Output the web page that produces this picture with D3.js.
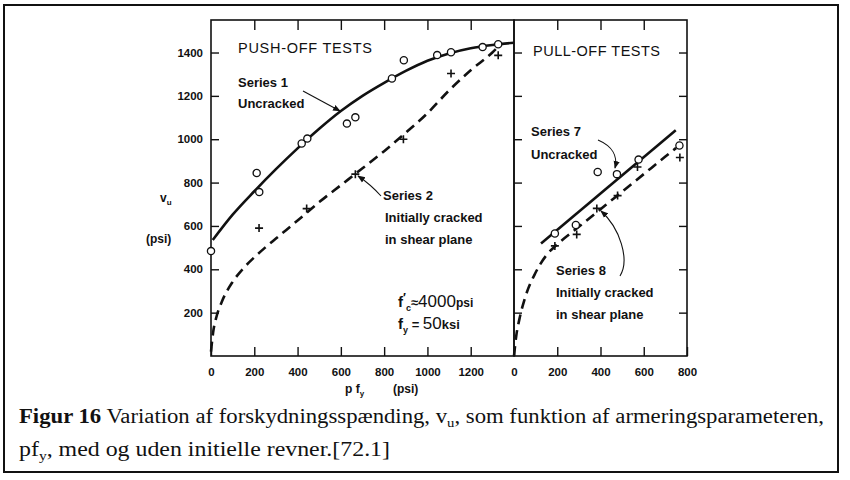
<!DOCTYPE html>
<html>
<head>
<meta charset="utf-8">
<script src="https://cdn.jsdelivr.net/npm/d3@7"></script>
<style>
  body { margin: 0; background: #fff; }
  text { font-family: "Liberation Sans", Arial, sans-serif; fill: #111; }
</style>
</head>
<body>
<svg width="850" height="480"></svg>
<script>
// push-off tests (left panel)
var s1X = [0, 211, 223, 419, 445, 628, 667, 836, 891, 1045, 1109, 1255, 1327];
var s1Y = [484, 844, 756, 980, 1003, 1072, 1101, 1280, 1364, 1388, 1401, 1425, 1438];
var s2X = [222, 442, 667, 889, 1109, 1327];
var s2Y = [590, 680, 839, 1000, 1303, 1387];
// fitted curves, push-off
var fit1X = [8, 100, 200, 300, 400, 500, 600, 700, 800, 900, 1000, 1100, 1200, 1300, 1400];
var fit1Y = [535, 652, 760, 862, 958, 1048, 1130, 1200, 1260, 1315, 1362, 1396, 1420, 1435, 1445];
var fit2X = [0, 10, 25, 50, 100, 150, 200, 250, 300, 400, 500, 600, 700, 800, 900, 1000, 1100, 1200, 1300, 1340];
var fit2Y = [20, 110, 180, 250, 342, 405, 455, 500, 542, 625, 710, 788, 866, 945, 1030, 1120, 1225, 1318, 1400, 1440];

// pull-off tests (right panel)
var s7X = [189, 286, 387, 476, 576, 765];
var s7Y = [565, 604, 849, 839, 906, 971];
var s8X = [189, 290, 383, 479, 571, 767];
var s8Y = [508, 561, 681, 740, 872, 916];
var fit7X = [125, 748];
var fit7Y = [519, 1041];
var fit8X = [0, 10, 25, 50, 100, 150, 200, 300, 400, 500, 600, 700, 750];
var fit8Y = [0, 90, 170, 265, 385, 465, 515, 596, 677, 758, 839, 920, 960];

var yTicks = [200, 400, 600, 800, 1000, 1200, 1400];
var xTicksL = [0, 200, 400, 600, 800, 1000, 1200];
var xTicksR = [0, 200, 400, 600, 800];

var svg = d3.select("svg");
svg.append("rect").attr("width", 850).attr("height", 480).attr("fill", "#fff");

// outer border
svg.append("rect")
    .attr("x", 4).attr("y", 5).attr("width", 834).attr("height", 467)
    .attr("fill", "none").attr("stroke", "#111").attr("stroke-width", 2);

var xL = d3.scaleLinear().domain([0, 1400]).range([211, 514]);
var xR = d3.scaleLinear().domain([0, 800]).range([514, 687]);
var y = d3.scaleLinear().domain([0, 1550]).range([356, 20]);

function styleAxis(g) {
    g.select(".domain").remove();
    g.selectAll("line").attr("stroke", "#111").attr("stroke-width", 1.4);
    g.selectAll("text")
        .style("font-family", "Liberation Sans, Arial, sans-serif")
        .style("font-weight", "bold")
        .style("font-size", "11.5px")
        .attr("fill", "#111");
}

// left panel axes
svg.append("g").attr("transform", "translate(" + xL(0) + ",0)")
    .call(d3.axisLeft(y).tickValues(yTicks).tickSize(-8).tickPadding(8).tickFormat(d3.format("d")))
    .call(styleAxis);
svg.append("g").attr("transform", "translate(0," + y(0) + ")")
    .call(d3.axisBottom(xL).tickValues(xTicksL).tickSize(-9).tickPadding(12).tickFormat(d3.format("d")))
    .call(styleAxis);
svg.append("g").attr("transform", "translate(0," + y(1550) + ")")
    .call(d3.axisTop(xL).tickValues(xTicksL.slice(1)).tickSize(-10).tickFormat(""))
    .call(styleAxis);

// right panel axes
svg.append("g").attr("transform", "translate(" + xR(0) + ",0)")
    .call(d3.axisLeft(y).tickValues(yTicks).tickSize(-8).tickFormat(""))
    .call(styleAxis);
svg.append("g").attr("transform", "translate(" + xR(800) + ",0)")
    .call(d3.axisRight(y).tickValues(yTicks).tickSize(-8).tickFormat(""))
    .call(styleAxis);
svg.append("g").attr("transform", "translate(0," + y(0) + ")")
    .call(d3.axisBottom(xR).tickValues(xTicksR).tickSize(-9).tickPadding(12).tickFormat(d3.format("d")))
    .call(styleAxis);
svg.append("g").attr("transform", "translate(0," + y(1550) + ")")
    .call(d3.axisTop(xR).tickValues([200, 400, 600]).tickSize(-10).tickFormat(""))
    .call(styleAxis);

// frames
svg.append("rect")
    .attr("x", xL(0)).attr("y", y(1550))
    .attr("width", xL(1400) - xL(0)).attr("height", y(0) - y(1550))
    .attr("fill", "none").attr("stroke", "#111").attr("stroke-width", 1.6);
svg.append("rect")
    .attr("x", xR(0)).attr("y", y(1550))
    .attr("width", xR(800) - xR(0)).attr("height", y(0) - y(1550))
    .attr("fill", "none").attr("stroke", "#111").attr("stroke-width", 1.6);

// fitted curves
function drawCurve(xs, ys, sx, dashed) {
    var pts = xs.map(function (d, i) { return [d, ys[i]]; });
    var line = d3.line()
        .x(function (d) { return sx(d[0]); })
        .y(function (d) { return y(d[1]); })
        .curve(d3.curveMonotoneX);
    svg.append("path")
        .attr("d", line(pts))
        .attr("fill", "none")
        .attr("stroke", "#111")
        .attr("stroke-width", 2.6)
        .attr("stroke-dasharray", dashed ? "10,6" : null);
}
drawCurve(fit1X, fit1Y, xL, false);
drawCurve(fit2X, fit2Y, xL, true);
drawCurve(fit7X, fit7Y, xR, false);
drawCurve(fit8X, fit8Y, xR, true);

// markers
function drawCircles(xs, ys, sx) {
    svg.append("g").selectAll("circle")
        .data(xs)
        .enter()
        .append("circle")
        .attr("cx", function (d) { return sx(d); })
        .attr("cy", function (d, i) { return y(ys[i]); })
        .attr("r", 3.6)
        .attr("fill", "#fff")
        .attr("stroke", "#111")
        .attr("stroke-width", 1.3);
}
function drawPlus(xs, ys, sx) {
    svg.append("g").selectAll("path")
        .data(xs)
        .enter()
        .append("path")
        .attr("d", function (d, i) {
            var cx = sx(d), cy = y(ys[i]);
            return "M" + (cx - 4) + "," + cy + "H" + (cx + 4) + "M" + cx + "," + (cy - 4) + "V" + (cy + 4);
        })
        .attr("stroke", "#111")
        .attr("stroke-width", 1.6);
}
drawCircles(s1X, s1Y, xL);
drawPlus(s2X, s2Y, xL);
drawCircles(s7X, s7Y, xR);
drawPlus(s8X, s8Y, xR);

// arrowhead
svg.append("defs").append("marker")
    .attr("id", "arr")
    .attr("viewBox", "0 0 10 10")
    .attr("refX", 9).attr("refY", 5)
    .attr("markerWidth", 7).attr("markerHeight", 7)
    .attr("orient", "auto")
    .append("path").attr("d", "M0,1L10,5L0,9Z").attr("fill", "#111");

function leader(d) {
    svg.append("path")
        .attr("d", d)
        .attr("fill", "none")
        .attr("stroke", "#111")
        .attr("stroke-width", 1.1)
        .attr("marker-end", "url(#arr)");
}
leader("M303,91 L340,111");
leader("M381,196 C372,186 364,180 358,176");
leader("M598,140 C612,146 618,156 615,168");
leader("M620,276 C630,260 620,228 601,211");

// annotation text
function label(x, yy, str, size, weight) {
    return svg.append("text")
        .attr("x", x).attr("y", yy)
        .style("font-size", size + "px")
        .style("font-weight", weight || "normal")
        .text(str);
}
label(238, 53, "PUSH-OFF TESTS", 14.5).attr("textLength", 134);
label(533, 56, "PULL-OFF TESTS", 14.5).attr("textLength", 127);

label(238, 87, "Series 1", 13, "bold");
label(238, 108, "Uncracked", 13, "bold");
label(383, 200, "Series 2", 13, "bold");
label(385, 222, "Initially cracked", 13, "bold");
label(385, 244, "in shear plane", 13, "bold");

label(531, 136, "Series 7", 13, "bold");
label(531, 159, "Uncracked", 13, "bold");
label(556, 275, "Series 8", 13, "bold");
label(556, 297, "Initially cracked", 13, "bold");
label(556, 319, "in shear plane", 13, "bold");

// material properties
var fc = svg.append("text").attr("x", 398).attr("y", 307)
    .style("font-size", "15px").style("font-weight", "bold");
fc.append("tspan").text("f");
fc.append("tspan").attr("dy", -5).style("font-size", "12px").text("\u2032");
fc.append("tspan").attr("dy", 9).style("font-size", "9px").text("c");
fc.append("tspan").attr("dy", -4).style("font-size", "13px").text("\u2248");
fc.append("tspan").style("font-size", "17px").style("font-weight", "normal").text("4000");
fc.append("tspan").style("font-size", "12px").text("psi");

var fy = svg.append("text").attr("x", 398).attr("y", 329)
    .style("font-size", "15px").style("font-weight", "bold");
fy.append("tspan").text("f");
fy.append("tspan").attr("dy", 4).style("font-size", "9px").text("y");
fy.append("tspan").attr("dy", -4).style("font-size", "13px").text(" = ");
fy.append("tspan").style("font-size", "17px").style("font-weight", "normal").text("50");
fy.append("tspan").style("font-size", "13px").text("ksi");

// axis titles
var vu = svg.append("text").attr("x", 160).attr("y", 202)
    .style("font-size", "12px").style("font-weight", "bold");
vu.append("tspan").text("v");
vu.append("tspan").attr("dy", 3).style("font-size", "8px").text("u");
label(146, 243, "(psi)", 12, "bold");

var pf = svg.append("text").attr("x", 345).attr("y", 393)
    .style("font-size", "12px").style("font-weight", "bold");
pf.append("tspan").text("p f");
pf.append("tspan").attr("dy", 3).style("font-size", "8px").text("y");
label(393, 393, "(psi)", 12, "bold");

// caption
var cap1 = svg.append("text").attr("x", 19).attr("y", 423)
    .attr("textLength", 805).attr("lengthAdjust", "spacingAndGlyphs")
    .style("font-family", "Liberation Serif, Times New Roman, serif")
    .style("font-size", "20px");
cap1.append("tspan").style("font-weight", "bold").text("Figur 16");
cap1.append("tspan").text(" Variation af forskydningsspænding, v");
cap1.append("tspan").attr("dy", 4).style("font-size", "13px").text("u");
cap1.append("tspan").attr("dy", -4).text(", som funktion af armeringsparameteren,");

var cap2 = svg.append("text").attr("x", 19).attr("y", 456)
    .attr("textLength", 371).attr("lengthAdjust", "spacingAndGlyphs")
    .style("font-family", "Liberation Serif, Times New Roman, serif")
    .style("font-size", "20px");
cap2.append("tspan").text("pf");
cap2.append("tspan").attr("dy", 4).style("font-size", "13px").text("y");
cap2.append("tspan").attr("dy", -4).text(", med og uden initielle revner.[72.1]");
</script>
</body>
</html>
